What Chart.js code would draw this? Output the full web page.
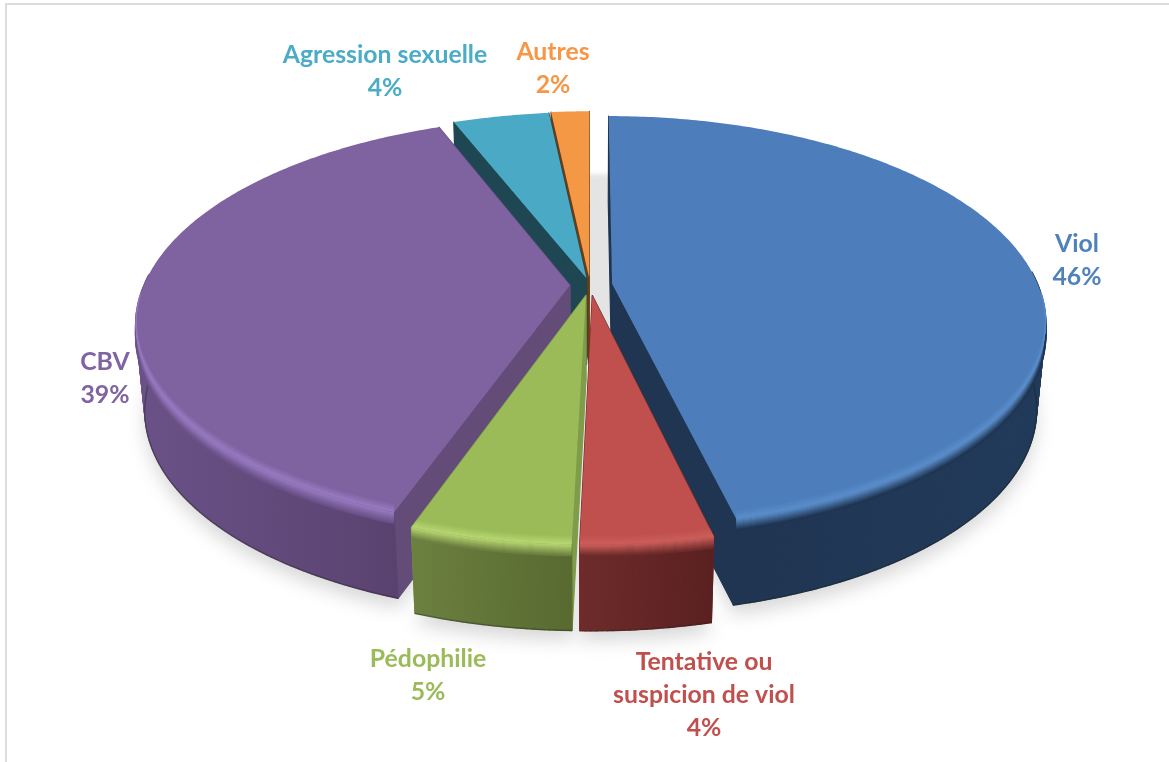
<!DOCTYPE html>
<html>
<head>
<meta charset="utf-8">
<style>
html, body { margin: 0; padding: 0; background: #fff; overflow: hidden; }
#frame { position: absolute; left: 5px; top: 3px; width: 1164px; height: 759px; border-top: 2px solid #dddddd; border-left: 2px solid #dddddd; box-sizing: border-box; }
canvas { position: absolute; left: 0; top: 0; }
</style>
</head>
<body>
<div id="frame"></div>
<canvas id="pie-chart" width="1169" height="762"></canvas>
<script src="https://cdn.jsdelivr.net/npm/chart.js@4"></script>
<script>
var categories = [['Viol'], ['Tentative ou', 'suspicion de viol'], ['Pédophilie'], ['CBV'], ['Agression sexuelle'], ['Autres']];
var shownPercent = ['46%', '4%', '5%', '39%', '4%', '2%'];
var sliceValues = [46.3, 4.1, 5.0, 38.6, 4.3, 1.7];

var topColors = ['#4d7ebb', '#c0504d', '#9bbb59', '#7f62a0', '#4aa9c4', '#f59845'];
var textColors = ['#4f81bd', '#c0504d', '#9bbb59', '#8064a2', '#4bacc6', '#f79646'];
var rimColors = ['#5b8ecb', '#cc5f5b', '#b9d873', '#9a7cc4', '#5bbcd6', '#f9a860'];
var wallLeft = ['#1f3552', '#6e2b2b', '#6c8040', '#6a5288', '#1f4753', '#6b3d14'];
var wallRight = ['#223a5a', '#5a2020', '#586a30', '#5a4270', '#1f4753', '#6b3d14'];
var sideColors = ['#1f3552', '#6e2b2b', '#7f9c4a', '#634d78', '#1f4753', '#6b3d14'];
var sliceOffsets = [72, 73, 73, 65, 48, 55];
var paintOrder = [5, 4, 3, 0, 2, 1];
var labelAnchors = [[1077, 244], [704, 662], [428, 659], [105, 362], [385, 55], [553, 52]];

var centerX = 590, centerY = 285, radiusX = 426, radiusY = 199, tilt = 0.184, depth = 86;
var labelFont = 'bold 24.8px Lato';
var lineStep = 33;

function project(u, v, down) {
    var s = 1 / (1 - tilt * v);
    var x = centerX + radiusX * u * s;
    var y = centerY + radiusY * v * s;
    if (down) {
        x = centerX + (x - centerX) * 0.98;
        y += depth;
    }
    return { x: x, y: y };
}

function slicePoints(arc, offset) {
    var p = arc.getProps(['startAngle', 'endAngle', 'outerRadius']);
    var mid = (p.startAngle + p.endAngle) / 2;
    var shift = (offset / 4) / p.outerRadius;
    var ox = Math.cos(mid) * shift;
    var oy = Math.sin(mid) * shift;
    var rim = [];
    var front = [];
    var steps = Math.max(4, Math.ceil((p.endAngle - p.startAngle) * 90));
    for (var i = 0; i <= steps; i++) {
        var a = p.startAngle + (p.endAngle - p.startAngle) * i / steps;
        rim.push([ox + Math.cos(a), oy + Math.sin(a)]);
        if (Math.sin(a) > 0.04) {
            front.push([ox + Math.cos(a), oy + Math.sin(a)]);
        }
    }
    return { apex: [ox, oy], rim: rim, front: front };
}

function trace(ctx, list, down, lift) {
    for (var i = 0; i < list.length; i++) {
        var pt = project(list[i][0], list[i][1], down);
        if (i === 0) {
            ctx.moveTo(pt.x, pt.y + (lift || 0));
        } else {
            ctx.lineTo(pt.x, pt.y + (lift || 0));
        }
    }
}

function fillPoly(ctx, list, down, color) {
    ctx.beginPath();
    trace(ctx, list, down);
    ctx.closePath();
    ctx.fillStyle = color;
    ctx.fill();
}

// wall between two neighbouring points, top edge to bottom edge
function fillQuad(ctx, p, q, color) {
    var a = project(p[0], p[1], false), b = project(q[0], q[1], false);
    var c = project(q[0], q[1], true), d = project(p[0], p[1], true);
    ctx.beginPath();
    ctx.moveTo(a.x, a.y);
    ctx.lineTo(b.x, b.y);
    ctx.lineTo(c.x, c.y);
    ctx.lineTo(d.x, d.y);
    ctx.closePath();
    ctx.fillStyle = color;
    ctx.strokeStyle = color;
    ctx.lineWidth = 1.2;
    ctx.lineJoin = 'round';
    ctx.fill();
    ctx.stroke();
}

function mix(a, b, t) {
    var ca = parseInt(a.slice(1), 16), cb = parseInt(b.slice(1), 16);
    var r = Math.round((ca >> 16) * (1 - t) + (cb >> 16) * t);
    var g = Math.round(((ca >> 8) & 255) * (1 - t) + ((cb >> 8) & 255) * t);
    var bl = Math.round((ca & 255) * (1 - t) + (cb & 255) * t);
    return 'rgb(' + r + ',' + g + ',' + bl + ')';
}

function drawSlice(ctx, pts, idx) {
    var top = [pts.apex].concat(pts.rim);
    var rim = pts.rim;

    // radial walls, then the outer wall with a left to right shade
    fillQuad(ctx, pts.apex, rim[0], sideColors[idx]);
    fillQuad(ctx, pts.apex, rim[rim.length - 1], sideColors[idx]);
    var left = 9999, right = -9999;
    for (var j = 0; j < pts.front.length; j++) {
        var q = project(pts.front[j][0], pts.front[j][1], false);
        left = Math.min(left, q.x);
        right = Math.max(right, q.x);
    }
    var shade = wallLeft[idx];
    if (pts.front.length > 1) {
        shade = ctx.createLinearGradient(left, 0, right, 0);
        shade.addColorStop(0, wallLeft[idx]);
        shade.addColorStop(1, wallRight[idx]);
    }
    for (var w = 0; w < rim.length - 1; w++) {
        // the back of the wall is hidden by the top face
        if (rim[w][1] - pts.apex[1] > -0.05 || rim[w + 1][1] - pts.apex[1] > -0.05) {
            fillQuad(ctx, rim[w], rim[w + 1], shade);
        }
    }

    // thin dark line under the wall
    ctx.beginPath();
    trace(ctx, pts.front, true);
    ctx.strokeStyle = 'rgba(30,30,20,0.35)';
    ctx.lineWidth = 1.5;
    ctx.stroke();

    // rounded edge, lower half lies on the wall
    ctx.lineWidth = 1.6;
    for (var dn = 0; dn < 12; dn++) {
        ctx.beginPath();
        trace(ctx, pts.front, false, dn);
        ctx.strokeStyle = mix(rimColors[idx], wallLeft[idx], dn / 11);
        ctx.stroke();
    }

    fillPoly(ctx, top, false, topColors[idx]);

    // upper half of the rounded edge lies on the top face
    ctx.save();
    ctx.beginPath();
    trace(ctx, top, false);
    ctx.closePath();
    ctx.clip();
    for (var up = 9; up > 0; up--) {
        ctx.beginPath();
        trace(ctx, pts.front, false, -up);
        ctx.strokeStyle = mix(topColors[idx], rimColors[idx], 1 - up / 9);
        ctx.lineWidth = 1.6;
        ctx.stroke();
    }
    ctx.restore();
}

var pie3d = {
    id: 'pie3d',
    beforeDatasetDraw: function () {
        return false;
    },
    afterDatasetsDraw: function (chart) {
        var ctx = chart.ctx;
        var arcs = chart.getDatasetMeta(0).data;
        var all = [];
        for (var i = 0; i < arcs.length; i++) {
            all.push(slicePoints(arcs[i], sliceOffsets[i]));
        }

        // soft shadow on the ground
        ctx.save();
        ctx.filter = 'blur(9px)';
        ctx.translate(0, 10);
        for (var s = 0; s < all.length; s++) {
            fillPoly(ctx, [all[s].apex].concat(all[s].rim), true, '#d8d8d8');
        }
        ctx.restore();

        // shadow seen through the gap behind the centre
        ctx.save();
        ctx.filter = 'blur(2px)';
        fillPoly(ctx, [[-0.1, -0.62], [0.1, -0.62], [0.1, 0.2], [-0.1, 0.2]], false, '#e4e4e4');
        ctx.restore();

        for (var n = 0; n < paintOrder.length; n++) {
            drawSlice(ctx, all[paintOrder[n]], paintOrder[n]);
        }

        ctx.font = labelFont;
        ctx.textAlign = 'center';
        ctx.textBaseline = 'middle';
        for (var t = 0; t < categories.length; t++) {
            ctx.fillStyle = textColors[t];
            var lines = categories[t].concat([shownPercent[t]]);
            for (var l = 0; l < lines.length; l++) {
                ctx.fillText(lines[l], labelAnchors[t][0], labelAnchors[t][1] + l * lineStep);
            }
        }
    }
};

var context = document.getElementById('pie-chart').getContext('2d');
var myPie = new Chart(context, {
    type: 'pie',
    data: {
        labels: categories,
        datasets: [{
            data: sliceValues,
            backgroundColor: topColors,
            offset: sliceOffsets,
            borderWidth: 0
        }]
    },
    options: {
        responsive: false,
        animation: false,
        plugins: {
            legend: { display: false },
            tooltip: { enabled: false }
        }
    },
    plugins: [pie3d]
});
</script>
</body>
</html>
